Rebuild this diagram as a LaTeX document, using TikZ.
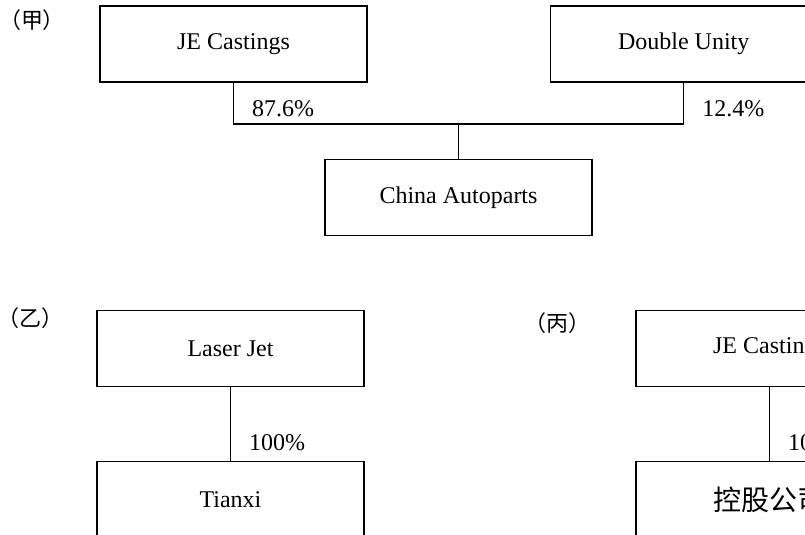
\documentclass[tikz,border=0pt]{standalone}
\usepackage{fontspec}
\setmainfont{Liberation Serif}
\newfontfamily\cjk{Noto Sans CJK SC}
\usetikzlibrary{positioning}
\tikzset{
    box/.style={draw, line width=0.6pt, fill=white, align=center, font=\fontsize{12}{14}\selectfont, minimum width=133.5pt, minimum height=38pt, inner sep=0pt},
    cjkbox/.style={box, font=\cjk\fontsize{14}{16}\selectfont},
    link/.style={line width=0.6pt},
    pct/.style={anchor=west, inner sep=0pt, xshift=9pt, font=\fontsize{12}{14}\selectfont},
    tag/.style={font=\cjk\fontsize{11}{13}\selectfont}
}

\begin{document}
\begin{tikzpicture}[x=0.5pt, y=-0.5pt, node distance=37pt and 91pt]
        \clip (0,0) rectangle (805,535);
        % (甲)
        \node[tag] (tagA) at (32,20) {（甲）};
        \node[box] (jec) at (233.5,44) {JE Castings};
        \node[box, right=of jec] (du) {Double Unity};
        \node[box] (cap) at (458.5,197.5) {China Autoparts};
        \coordinate (bus) at (458.5,124);
        \draw[link] (jec.south) |- node[pct, pos=0.31] {87.6\%} (bus) -| node[pct, pos=0.69] {12.4\%} (du.south);
        \draw[link] (bus) -- (cap.north);

        % (乙)
        \node[tag] (tagB) at (30,318) {（乙）};
        \node[box] (lj) at (230.5,348.5) {Laser Jet};
        \node[box, below=of lj] (tx) {Tianxi};
        \draw[link] (lj) -- node[pct, pos=0.75] {100\%} (tx);

        % (丙)
        \node[tag] (tagC) at (557,323) {（丙）};
        \node[box] (jec2) at (769.5,348.5) {JE Castings};
        \node[cjkbox, below=of jec2] (hold) {控股公司};
        \draw[link] (jec2) -- node[pct, pos=0.75] {100\%} (hold);
      \end{tikzpicture}
\end{document}
